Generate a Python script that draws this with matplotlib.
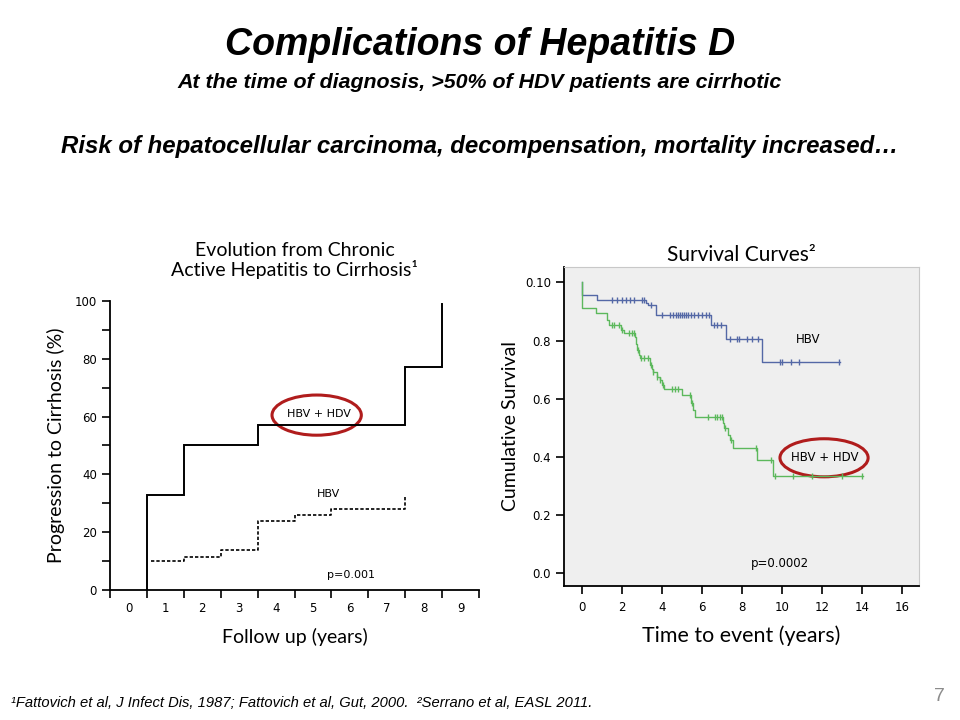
import numpy as np
import matplotlib

matplotlib.use("Agg")
import matplotlib.pyplot as plt
from matplotlib.patches import Ellipse

# ---- left panel: progression to cirrhosis (step curves) ----
HDV_TIMES = [1, 2, 4, 8, 9]
HDV_LEVELS = [33, 50, 57, 77, 99]
HBV_TIMES = [1.1, 2, 3, 4, 5, 6, 8]
HBV_LEVELS = [10, 11.5, 14, 24, 26, 28, 33]
FOLLOW_UP_LABELS = ["0", "1", "2", "3", "4", "5", "6", "7", "8", "9"]

# ---- right panel: Kaplan-Meier survival ----
HBV_EVENT_T = [0, 0.75, 3.2, 3.3, 3.7, 6.45, 7.2, 9.0]
HBV_EVENT_S = [0.956, 0.939, 0.930, 0.922, 0.888, 0.855, 0.807, 0.727]
HBV_END = 12.9
HBV_CENSOR = [1.5, 1.75, 2.0, 2.2, 2.4, 2.63, 3.0, 3.1, 3.45, 4.0, 4.4, 4.55,
              4.7, 4.8, 4.9, 5.0, 5.1, 5.2, 5.3, 5.45, 5.6, 5.8, 6.0, 6.2,
              6.35, 6.6, 6.75, 6.95, 7.4, 7.75, 7.85, 8.25, 8.5, 8.8, 9.9,
              10.0, 10.45, 10.85, 12.85]

HDV_EVENT_T = [0, 0.7, 1.25, 1.35, 1.95, 2.1, 2.66, 2.72, 2.78, 2.85, 2.92,
               3.41, 3.5, 3.58, 3.74, 3.91, 4.0, 4.1, 5.0, 5.45, 5.55, 5.65,
               7.07, 7.12, 7.3, 7.4, 7.55, 8.77, 9.55]
HDV_EVENT_S = [0.911, 0.895, 0.872, 0.853, 0.838, 0.827, 0.813, 0.790, 0.767,
               0.750, 0.739, 0.716, 0.704, 0.693, 0.676, 0.664, 0.647, 0.632,
               0.613, 0.584, 0.561, 0.538, 0.515, 0.498, 0.475, 0.458, 0.432,
               0.389, 0.335]
HDV_END = 14.05
HDV_CENSOR = [1.5, 1.6, 1.85, 2.0, 2.35, 2.5, 2.6, 2.8, 2.96, 3.13, 3.29,
              3.45, 3.58, 3.75, 3.91, 4.05, 4.49, 4.66, 4.82, 5.41, 5.5,
              6.32, 6.65, 6.77, 6.9, 6.99, 7.14, 7.45, 8.7, 9.45, 9.65, 10.56,
              11.48, 12.98, 13.98]

SURV_TICKS = [0.0, 0.2, 0.4, 0.6, 0.8, 1.0]
SURV_TICK_LABELS = ["0.0", "0.2", "0.4", "0.6", "0.8", "0.10"]
TIME_TICKS = [0, 2, 4, 6, 8, 10, 12, 14, 16]

RED = "#b01c1c"
BLUE = "#5468a6"
GREEN = "#5cb85c"
HEAD_FONT = ["Liberation Sans", "DejaVu Sans"]
SOFT_FONT = ["Lato", "DejaVu Sans"]


def step_xy(times, levels, start, end):
    xs = [start[0]]
    ys = [start[1]]
    for t, v in zip(times, levels):
        xs += [t, t]
        ys += [ys[-1], v]
    if end is not None:
        xs.append(end)
        ys.append(ys[-1])
    return xs, ys


def surv_at(times, levels, t_query):
    idx = np.searchsorted(np.array(times), np.array(t_query), side="right") - 1
    return np.array(levels)[np.clip(idx, 0, None)]


fig = plt.figure(figsize=(9.6, 7.2), dpi=100)

fig.text(0.5, 0.937, "Complications of Hepatitis D", ha="center", va="center",
         fontsize=27, fontweight="bold", fontstyle="italic", family=HEAD_FONT)
fig.text(0.5, 0.885, "At the time of diagnosis, >50% of HDV patients are cirrhotic",
         ha="center", va="center", fontsize=15.4, fontweight="bold",
         fontstyle="italic", family=HEAD_FONT)
fig.text(0.5, 0.796, "Risk of hepatocellular carcinoma, decompensation, mortality increased\u2026",
         ha="center", va="center", fontsize=17.3, fontweight="bold",
         fontstyle="italic", family=HEAD_FONT)
fig.text(0.011, 0.024, "\u00b9Fattovich et al, J Infect Dis, 1987; Fattovich et al, Gut, 2000.  "
         "\u00b2Serrano et al, EASL 2011.", ha="left", va="center", fontsize=10.6,
         fontstyle="italic", family=["Liberation Sans Narrow", "Liberation Sans"])
fig.text(0.979, 0.032, "7", ha="center", va="center", fontsize=14,
         color="#8c8c8c", family=HEAD_FONT)

# ---- left panel ----
ax1 = fig.add_axes([0.1146, 0.1806, 0.3844, 0.4014])
x, y = step_xy(HDV_TIMES, HDV_LEVELS, (HDV_TIMES[0], 0), None)
ax1.plot(x, y, color="black", lw=1.4, solid_joinstyle="miter")
x, y = step_xy(HBV_TIMES, HBV_LEVELS, (HBV_TIMES[0], HBV_LEVELS[0]), None)
ax1.plot(x[2:], y[2:], color="black", lw=1.2, linestyle=(0, (2, 1.2)))
ax1.set_xlim(0, 10)
ax1.set_ylim(0, 100)
ax1.spines[["top", "right"]].set_visible(False)
ax1.spines[["left", "bottom"]].set_linewidth(1.3)
ax1.set_xticks(range(11))
ax1.set_xticklabels([])
ax1.set_xticks(np.arange(len(FOLLOW_UP_LABELS)) + 0.5, minor=True)
ax1.set_xticklabels(FOLLOW_UP_LABELS, minor=True)
ax1.tick_params(axis="x", which="major", direction="out", length=6, width=1.2)
ax1.tick_params(axis="x", which="minor", length=0, pad=9, labelsize=8.5)
ax1.set_yticks(range(0, 101, 20))
ax1.set_yticks(range(10, 100, 20), minor=True)
ax1.tick_params(axis="y", which="both", direction="out", length=6, width=1.2,
                labelsize=8.5)
ax1.set_ylabel("Progression to Cirrhosis (%)", fontsize=14, family=SOFT_FONT,
               labelpad=7)
ax1.set_xlabel("Follow up (years)", fontsize=14, family=SOFT_FONT, labelpad=9)
ax1.set_title("Evolution from Chronic\nActive Hepatitis to Cirrhosis\u00b9",
              fontsize=14, family=SOFT_FONT, pad=18, linespacing=1.05)
ax1.text(5.67, 60.8, "HBV + HDV", ha="center", va="center", fontsize=8)
ax1.add_patch(Ellipse((5.6, 60.5), 2.42, 13.9, fill=False, edgecolor=RED, lw=2.2))
ax1.text(5.91, 33.2, "HBV", ha="center", va="center", fontsize=8)
ax1.text(6.52, 5.2, "p=0.001", ha="center", va="center", fontsize=8)

# ---- right panel ----
ax2 = fig.add_axes([0.5875, 0.1865, 0.3698, 0.4426])
ax2.set_facecolor("#efefef")
for times, levels, end, censor, color in [
    (HBV_EVENT_T, HBV_EVENT_S, HBV_END, HBV_CENSOR, BLUE),
    (HDV_EVENT_T, HDV_EVENT_S, HDV_END, HDV_CENSOR, GREEN),
]:
    x, y = step_xy(times, levels, (0, 1.0), end)
    ax2.plot(x, y, color=color, lw=1.0)
    ax2.plot(censor, surv_at(times, levels, censor), linestyle="none",
             marker="|", markersize=5, markeredgewidth=1.0, color=color)
ax2.set_xlim(-0.88, 16.84)
ax2.set_ylim(-0.043, 1.053)
ax2.spines[["top", "right"]].set_color("#c8c8c8")
ax2.spines[["left", "bottom"]].set_linewidth(1.3)
ax2.set_yticks(SURV_TICKS)
ax2.set_yticklabels(SURV_TICK_LABELS)
ax2.set_xticks(TIME_TICKS)
ax2.tick_params(axis="both", direction="out", length=6, width=1.2, labelsize=8.5)
ax2.tick_params(axis="x", pad=5)
ax2.set_ylabel("Cumulative Survival", fontsize=14, family=SOFT_FONT, labelpad=4)
ax2.set_xlabel("Time to event (years)", fontsize=15.4, family=SOFT_FONT, labelpad=8)
ax2.set_title("Survival Curves\u00b2", fontsize=15, family=SOFT_FONT, pad=4)
ax2.text(11.3, 0.805, "HBV", ha="center", va="center", fontsize=8.5)
ax2.text(12.15, 0.397, "HBV + HDV", ha="center", va="center", fontsize=8.5)
ax2.add_patch(Ellipse((12.1, 0.397), 4.4, 0.131, fill=False, edgecolor=RED, lw=2.2))
ax2.text(9.9, 0.034, "p=0.0002", ha="center", va="center", fontsize=8.5)

fig.savefig("out.png", dpi=100)
